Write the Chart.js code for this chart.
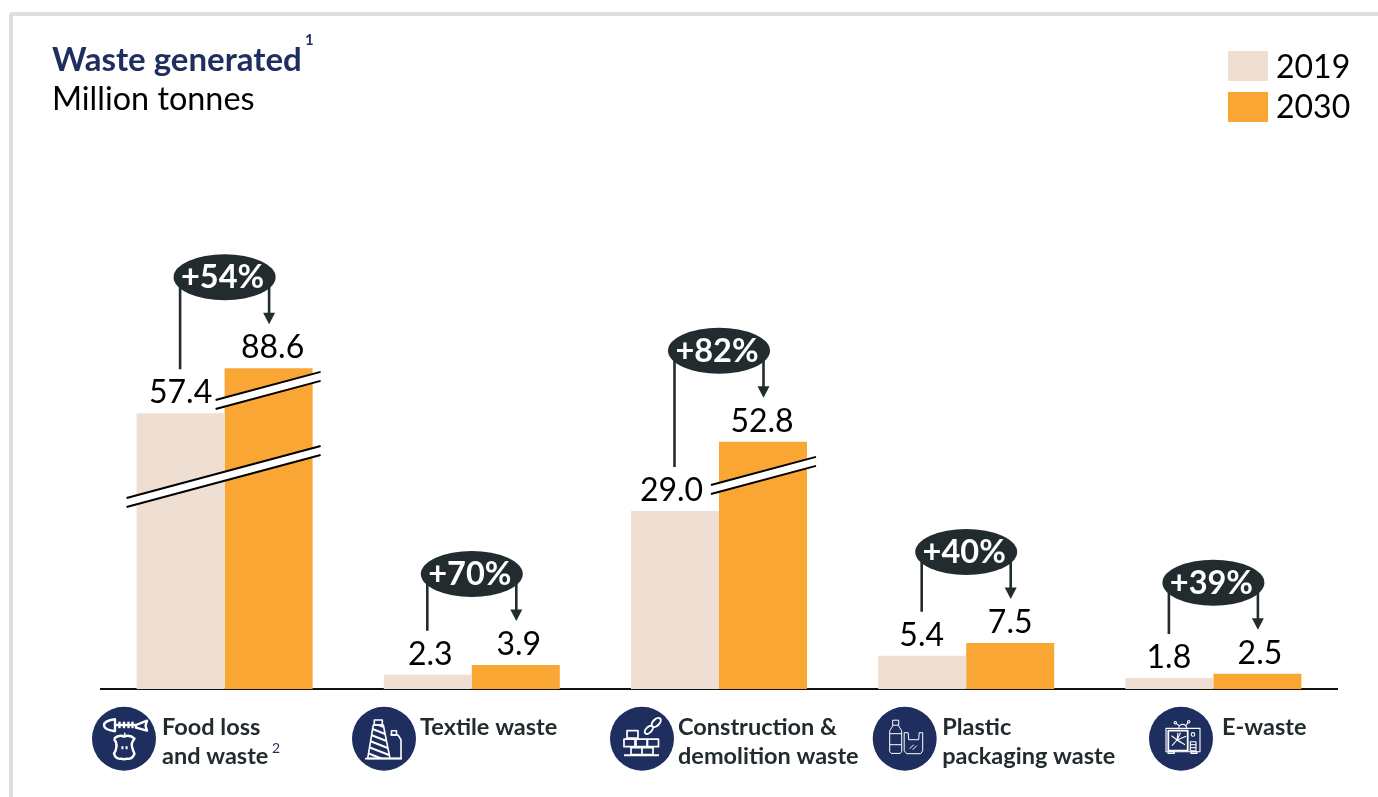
<!DOCTYPE html>
<html>
<head>
<meta charset="utf-8">
<title>Waste generated</title>
<script src="https://cdn.jsdelivr.net/npm/chart.js@4/dist/chart.umd.min.js"></script>
<style>
  html, body { margin: 0; padding: 0; background: #fff; overflow: hidden; }
  #frame { position: absolute; left: 9px; top: 12px; right: -10px; bottom: -10px; border: 4px solid #dedede; border-radius: 3px; }
  #wrap { position: absolute; left: 0; top: 0; width: 1378px; height: 797px; }
</style>
</head>
<body>
<div id="frame"></div>
<div id="wrap"><canvas id="wasteChart" width="1378" height="797"></canvas></div>
<script>
// data
const categories = ['Food loss and waste', 'Textile waste', 'Construction & demolition waste', 'Plastic packaging waste', 'E-waste'];
const categoryLines = [['Food loss', 'and waste'], ['Textile waste'], ['Construction &', 'demolition waste'], ['Plastic', 'packaging waste'], ['E-waste']];
const seriesNames = ['2019', '2030'];
const values2019 = [57.4, 2.3, 29.0, 5.4, 1.8];
const values2030 = [88.6, 3.9, 52.8, 7.5, 2.5];
const changes = ['+54%', '+70%', '+82%', '+40%', '+39%'];

// the y axis is broken in the original, bars above 29 are squeezed
const axisValues = [0, 29, 52.8, 57.4, 88.6];
const axisDrawn = [0, 29.2, 40.55, 45.2, 52.6];

const NAVY = '#1e2f5f';
const DARK = '#222c2e';
const SANS = 'Lato, sans-serif';

class BrokenScale extends Chart.LinearScale {
  static id = 'broken';
  static defaults = Chart.LinearScale.defaults;
  getPixelForValue(v) {
    let i = 1;
    while (i < axisValues.length - 1 && v > axisValues[i]) i++;
    const t = (v - axisValues[i - 1]) / (axisValues[i] - axisValues[i - 1]);
    return super.getPixelForValue(axisDrawn[i - 1] + t * (axisDrawn[i] - axisDrawn[i - 1]));
  }
}
Chart.register(BrokenScale);

function text(ctx, str, x, y, font, color, align) {
  ctx.font = font;
  ctx.fillStyle = color;
  ctx.textAlign = align || 'left';
  ctx.textBaseline = 'alphabetic';
  ctx.fillText(str, x, y);
}

// little white line icons, coordinates are relative to the circle centre
function poly(ctx, pts, close) {
  ctx.beginPath();
  pts.forEach((p, i) => i ? ctx.lineTo(p[0], p[1]) : ctx.moveTo(p[0], p[1]));
  if (close) ctx.closePath();
  ctx.stroke();
}

function drawFood(ctx) {
  ctx.lineWidth = 2.4;
  ctx.beginPath();
  ctx.moveTo(-9, -19.5); ctx.quadraticCurveTo(-20, -18, -20, -13.5); ctx.quadraticCurveTo(-20, -9, -9, -7.5); ctx.closePath();
  ctx.stroke();
  poly(ctx, [[-9, -13.7], [12, -13.7]]);
  [-4.5, 0, 4.5, 8.5].forEach(x => poly(ctx, [[x, -17], [x, -10.5]]));
  poly(ctx, [[12, -13.7], [23, -18], [21.5, -13], [23, -8], [12, -11]], true);
  ctx.beginPath();
  ctx.moveTo(-10, 0); ctx.quadraticCurveTo(-5, -4.5, 0, -2); ctx.quadraticCurveTo(6, -4.5, 10.5, 0);
  ctx.quadraticCurveTo(7, 4, 8, 8); ctx.quadraticCurveTo(9, 12, 10.5, 15);
  ctx.quadraticCurveTo(8, 21, 3, 20); ctx.quadraticCurveTo(0, 21, -3, 20); ctx.quadraticCurveTo(-8, 21, -10, 15);
  ctx.quadraticCurveTo(-8, 12, -7.5, 8); ctx.quadraticCurveTo(-7, 4, -10, 0);
  ctx.stroke();
  ctx.lineWidth = 1.6;
  poly(ctx, [[0, -2], [1, -6]]);
  ctx.fillStyle = '#fff';
  ctx.fillRect(-2.6, 7.5, 2, 3); ctx.fillRect(1.6, 7.5, 2, 3);
}

function drawTextile(ctx) {
  ctx.lineWidth = 1.6;
  ctx.strokeRect(-9.7, -18.7, 8, 5);
  poly(ctx, [[-10.7, -13.7], [-0.7, -13.7], [6, 19.7], [-16.3, 19.7]], true);
  ctx.save();
  ctx.beginPath();
  ctx.moveTo(-10.7, -13.7); ctx.lineTo(-0.7, -13.7); ctx.lineTo(6, 19.7); ctx.lineTo(-16.3, 19.7); ctx.closePath();
  ctx.clip();
  ctx.lineWidth = 2.2;
  for (let y = -26; y < 24; y += 6.5) poly(ctx, [[-20, y], [8, y + 11]]);
  ctx.restore();
  ctx.lineWidth = 1.6;
  ctx.strokeRect(7.5, -8, 5, 4.3);
  poly(ctx, [[6.5, -3.7], [14, -3.7], [17, 1], [17, 19.7], [7, 19.7]]);
  ctx.lineWidth = 1.8;
  poly(ctx, [[-19, 20], [18, 20]]);
}

function drawBricks(ctx) {
  ctx.lineWidth = 1.7;
  ctx.beginPath();
  ctx.rect(-15, -8, 11, 7.5);
  ctx.rect(-18, 0.5, 11, 7.5); ctx.rect(-6, 0.5, 11, 7.5); ctx.rect(5.5, 0.5, 11, 7.5);
  ctx.rect(-11, 9, 11, 7); ctx.rect(0, 9, 11, 7);
  ctx.stroke();
  ctx.lineWidth = 2;
  poly(ctx, [[-18, 16.5], [17, 16.5]]);
  ctx.save();
  ctx.translate(10, -12);
  ctx.rotate(-Math.PI / 4);
  ctx.beginPath(); ctx.ellipse(-4.5, 0, 5, 2.8, 0, 0, 7); ctx.stroke();
  ctx.beginPath(); ctx.ellipse(6, 0, 5.5, 3.2, 0, 0, 7); ctx.stroke();
  ctx.restore();
}

function drawPlastic(ctx) {
  ctx.lineWidth = 1;
  ctx.strokeRect(-12, -18.5, 6, 5);
  poly(ctx, [[-11.5, -13.5], [-15, -8], [-15, 13], [-13.5, 14.7], [-4.5, 14.7], [-3, 13], [-3, -8], [-6.5, -13.5]]);
  poly(ctx, [[-15, -5], [-3, -5]]);
  poly(ctx, [[-15, 6], [-3, 6]]);
  poly(ctx, [[-0.5, -6], [-0.5, 12], [2, 15], [16, 15], [18, 12], [18, -6], [14.5, -6], [14, 1], [4, 1], [3.5, -6]], true);
  poly(ctx, [[5, 10], [9, 6]]);
  poly(ctx, [[8, 11], [12, 7]]);
}

function drawTv(ctx) {
  ctx.lineWidth = 1.1;
  ctx.strokeRect(-15, -10.3, 34, 23.3);
  ctx.lineWidth = 1.8;
  ctx.strokeRect(-12.7, -8, 19.4, 20);
  ctx.lineWidth = 1.1;
  ctx.beginPath(); ctx.arc(1.7, -10.3, 4, Math.PI, 0); ctx.stroke();
  poly(ctx, [[-5, -15.3], [-1.5, -13]]);
  poly(ctx, [[7, -16.3], [5, -13]]);
  ctx.beginPath(); ctx.arc(-5.7, -16, 1.2, 0, 7); ctx.stroke();
  ctx.beginPath(); ctx.arc(7.7, -17, 1.2, 0, 7); ctx.stroke();
  ctx.beginPath(); ctx.arc(12, -4.3, 1.8, 0, 7); ctx.stroke();
  ctx.strokeRect(9.3, 3, 5.7, 9);
  poly(ctx, [[9.3, 6], [15, 6]]);
  poly(ctx, [[9.3, 9], [15, 9]]);
  ctx.strokeRect(-13, 13, 6.3, 1.7);
  ctx.strokeRect(10, 13, 6, 1.7);
  [[-0.5, -6], [5, -2.5], [4, 6], [0, 3.5], [-9, 7], [-9.5, -3], [-3, -6]].forEach(p => poly(ctx, [[-4, 1.3], p]));
}

const iconPainters = [drawFood, drawTextile, drawBricks, drawPlastic, drawTv];
const iconOffsets = [-100.6, -87.8, -77, -61.5, -32.4];
const labelOffsets = [-62.6, -51.8, -41, -24, 8.6];
const valueNudge2019 = [0, 2.5, -3.5, -0.5, -0.5];
const valueNudge2030 = [4, 3, -1, 0, 2.5];

// slanted white cuts over the tall bars: [category, x from centre, x to, height above axis at the left end]
const cuts = [
  [0, -98, 96, 182],
  [0, -9, 96, 280],
  [2, -8, 97, 195]
];

const wastePlugin = {
  id: 'wastePlugin',
  afterDatasetsDraw(chart) {
    const ctx = chart.ctx;
    const xs = chart.scales.x;
    const axisY = chart.chartArea.bottom;
    const meta0 = chart.getDatasetMeta(0).data;
    const meta1 = chart.getDatasetMeta(1).data;
    ctx.save();

    // axis breaks
    cuts.forEach(c => {
      const cx = xs.getPixelForValue(c[0]);
      const x0 = cx + c[1], x1 = cx + c[2];
      const y0 = axisY - c[3], y1 = y0 - (x1 - x0) * 0.268;
      ctx.beginPath();
      ctx.moveTo(x0, y0); ctx.lineTo(x1, y1); ctx.lineTo(x1, y1 - 9); ctx.lineTo(x0, y0 - 9); ctx.closePath();
      ctx.fillStyle = '#fff';
      ctx.fill();
      ctx.strokeStyle = '#000';
      ctx.lineWidth = 2;
      ctx.beginPath();
      ctx.moveTo(x0, y0); ctx.lineTo(x1, y1);
      ctx.moveTo(x0, y0 - 9); ctx.lineTo(x1, y1 - 9);
      ctx.stroke();
    });

    // value labels, change bubbles and arrows
    categories.forEach((cat, i) => {
      const a = meta0[i], b = meta1[i];
      text(ctx, values2019[i].toFixed(1), a.x + valueNudge2019[i], a.y - 10, '400 32px ' + SANS, '#000', 'center');
      text(ctx, values2030[i].toFixed(1), b.x + valueNudge2030[i], b.y - 10, '400 32px ' + SANS, '#000', 'center');

      const cx = xs.getPixelForValue(i);
      const top = Math.min(a.y, b.y) - 91;
      ctx.strokeStyle = DARK;
      ctx.lineWidth = 2.6;
      ctx.beginPath();
      ctx.moveTo(a.x - 0.5, top); ctx.lineTo(a.x - 0.5, a.y - 44);
      ctx.moveTo(b.x + 0.5, top); ctx.lineTo(b.x + 0.5, b.y - 50);
      ctx.stroke();
      ctx.fillStyle = DARK;
      ctx.beginPath();
      ctx.moveTo(b.x - 5.5, b.y - 55.5); ctx.lineTo(b.x + 6.5, b.y - 55.5); ctx.lineTo(b.x + 0.5, b.y - 44); ctx.closePath();
      ctx.fill();
      ctx.beginPath();
      ctx.ellipse(cx, top, 51, 23, 0, 0, Math.PI * 2);
      ctx.fill();
      text(ctx, changes[i], cx - 2, top + 11, '700 32.5px ' + SANS, '#fff', 'center');

      // category icon and label under the axis
      const ix = cx + iconOffsets[i], iy = axisY + 49.7;
      ctx.fillStyle = NAVY;
      ctx.beginPath(); ctx.arc(ix, iy, 32, 0, Math.PI * 2); ctx.fill();
      ctx.save();
      ctx.translate(ix, iy);
      ctx.strokeStyle = '#fff';
      ctx.lineJoin = 'round';
      iconPainters[i](ctx);
      ctx.restore();
      categoryLines[i].forEach((line, n) => {
        text(ctx, line, cx + labelOffsets[i], axisY + 46 + n * 29, '700 23.5px ' + SANS, DARK);
      });
    });
    text(ctx, '2', xs.getPixelForValue(0) + labelOffsets[0] + 110, axisY + 64, '400 14px ' + SANS, NAVY);

    // heading
    text(ctx, 'Waste generated', 52, 71, '700 33px ' + SANS, NAVY);
    text(ctx, '1', 305, 45, '700 15px ' + SANS, NAVY);
    text(ctx, 'Million tonnes', 52, 110, '400 32.4px ' + SANS, '#000');

    // legend
    chart.data.datasets.forEach((ds, i) => {
      ctx.fillStyle = ds.backgroundColor;
      ctx.fillRect(1228, 51 + i * 41, 40, 30);
      text(ctx, ds.label, 1276, 78 + i * 40, '400 32px ' + SANS, '#000');
    });
    ctx.restore();
  }
};

new Chart(document.getElementById('wasteChart'), {
  type: 'bar',
  data: {
    labels: categories,
    datasets: [
      { label: seriesNames[0], data: values2019, backgroundColor: '#efdfd3' },
      { label: seriesNames[1], data: values2030, backgroundColor: '#faa634' }
    ]
  },
  plugins: [wastePlugin],
  options: {
    responsive: false,
    animation: false,
    layout: { padding: { left: 101, right: 41, top: 79, bottom: 108 } },
    datasets: { bar: { categoryPercentage: 0.712, barPercentage: 1 } },
    plugins: { legend: { display: false }, tooltip: { enabled: false } },
    scales: {
      x: {
        grid: { display: false, drawTicks: false },
        border: { color: '#111', width: 2 },
        ticks: { display: false }
      },
      y: { type: 'broken', min: 0, max: 100, display: false }
    }
  }
});
</script>
</body>
</html>
